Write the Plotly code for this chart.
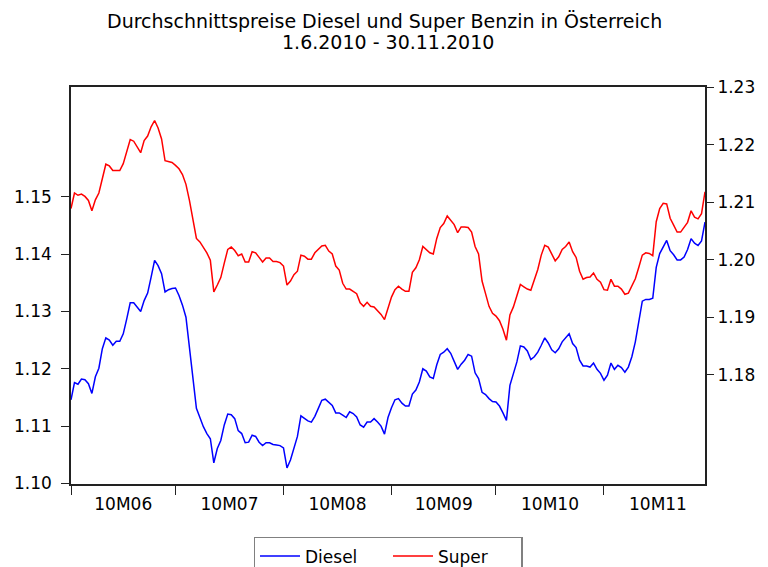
import pandas as pd
import plotly.graph_objects as go

start_date = "2010-06-01"
end_date = "2010-11-30"
dates = pd.date_range(start_date, end_date, freq="D")

diesel = [
    1.1146, 1.1176, 1.1173, 1.1182, 1.1181, 1.1174, 1.1157, 1.1186, 1.1201, 1.1235,
    1.1254, 1.1250, 1.1241, 1.1248, 1.1248, 1.1261, 1.1287, 1.1315, 1.1315, 1.1307,
    1.1300, 1.1319, 1.1332, 1.1360, 1.1389, 1.1380, 1.1366, 1.1334, 1.1338, 1.1340,
    1.1341, 1.1328, 1.1311, 1.1290, 1.1238, 1.1186, 1.1131, 1.1115, 1.1099, 1.1087,
    1.1078, 1.1036, 1.1061, 1.1075, 1.1102, 1.1121, 1.1120, 1.1113, 1.1092, 1.1087,
    1.1071, 1.1072, 1.1084, 1.1082, 1.1072, 1.1066, 1.1071, 1.1071, 1.1068, 1.1067,
    1.1066, 1.1062, 1.1027, 1.1041, 1.1064, 1.1082, 1.1118, 1.1113, 1.1109, 1.1107,
    1.1117, 1.1131, 1.1145, 1.1147, 1.1142, 1.1136, 1.1123, 1.1123, 1.1119, 1.1115,
    1.1125, 1.1122, 1.1116, 1.1102, 1.1098, 1.1107, 1.1107, 1.1113, 1.1107, 1.1100,
    1.1086, 1.1115, 1.1132, 1.1146, 1.1148, 1.1140, 1.1135, 1.1135, 1.1156, 1.1163,
    1.1177, 1.1200, 1.1196, 1.1186, 1.1183, 1.1207, 1.1225, 1.1229, 1.1235, 1.1227,
    1.1213, 1.1199, 1.1208, 1.1215, 1.1225, 1.1222, 1.1193, 1.1183, 1.1159, 1.1155,
    1.1148, 1.1143, 1.1142, 1.1135, 1.1123, 1.1110, 1.1171, 1.1192, 1.1212, 1.1240,
    1.1238, 1.1231, 1.1216, 1.1221, 1.1229, 1.1241, 1.1254, 1.1245, 1.1233, 1.1228,
    1.1235, 1.1247, 1.1254, 1.1261, 1.1244, 1.1237, 1.1215, 1.1205, 1.1205, 1.1203,
    1.1210, 1.1199, 1.1192, 1.1180, 1.1189, 1.1210, 1.1199, 1.1206, 1.1202, 1.1194,
    1.1203, 1.1221, 1.1247, 1.1282, 1.1318, 1.1321, 1.1321, 1.1323, 1.1377, 1.1401,
    1.1413, 1.1424, 1.1406, 1.1399, 1.1390, 1.1390, 1.1395, 1.1408, 1.1427, 1.1419,
    1.1415, 1.1423, 1.1456,
]

super_benzin = [
    1.2089, 1.2116, 1.2112, 1.2114, 1.2110, 1.2103, 1.2085, 1.2104, 1.2116, 1.2141,
    1.2166, 1.2163, 1.2155, 1.2155, 1.2155, 1.2167, 1.2189, 1.2209, 1.2206, 1.2197,
    1.2186, 1.2207, 1.2215, 1.2231, 1.2242, 1.2229, 1.2210, 1.2172, 1.2171, 1.2169,
    1.2164, 1.2158, 1.2148, 1.2131, 1.2103, 1.2069, 1.2037, 1.2031, 1.2022, 1.2012,
    1.1999, 1.1944, 1.1956, 1.1969, 1.1994, 1.2018, 1.2022, 1.2016, 1.2007, 1.2010,
    1.1996, 1.1996, 1.2014, 1.2012, 1.2004, 1.1996, 1.2003, 1.2003, 1.1997, 1.1997,
    1.1995, 1.1989, 1.1956, 1.1963, 1.1974, 1.1980, 1.2008, 1.2006, 1.2001, 1.2001,
    1.2012, 1.2018, 1.2024, 1.2025, 1.2015, 1.2010, 1.1989, 1.1982, 1.1959, 1.1949,
    1.1949, 1.1945, 1.1941, 1.1925, 1.1919, 1.1926, 1.1919, 1.1918, 1.1912, 1.1905,
    1.1896, 1.1915, 1.1935, 1.1948, 1.1954, 1.1949, 1.1945, 1.1945, 1.1978, 1.1986,
    1.2000, 1.2023, 1.2018, 1.2012, 1.2010, 1.2037, 1.2056, 1.2063, 1.2076, 1.2069,
    1.2061, 1.2047, 1.2057, 1.2057, 1.2056, 1.2048, 1.2023, 1.2010, 1.1963, 1.1941,
    1.1919, 1.1907, 1.1902, 1.1894, 1.1879, 1.1860, 1.1904, 1.1918, 1.1937, 1.1957,
    1.1953, 1.1949, 1.1947, 1.1964, 1.1983, 1.2008, 1.2025, 1.2022, 1.2010, 1.1998,
    1.2005, 1.2018, 1.2023, 1.2031, 1.2014, 1.2004, 1.1980, 1.1966, 1.1969, 1.1970,
    1.1977, 1.1966, 1.1961, 1.1948, 1.1947, 1.1966, 1.1954, 1.1954, 1.1949, 1.1940,
    1.1942, 1.1954, 1.1967, 1.1987, 1.2008, 1.2012, 1.2011, 1.2007, 1.2066, 1.2089,
    1.2098, 1.2097, 1.2072, 1.2060, 1.2048, 1.2048, 1.2057, 1.2065, 1.2085, 1.2074,
    1.2071, 1.2080, 1.2118,
]

left_ticks = [1.10, 1.11, 1.12, 1.13, 1.14, 1.15]
right_ticks = [1.18, 1.19, 1.20, 1.21, 1.22, 1.23]
title_line1 = "Durchschnittspreise Diesel und Super Benzin in Österreich"
title_line2 = "1.6.2010 - 30.11.2010"

FONT = "DejaVu Sans"
AX = "#222222"

fig = go.Figure()
fig.add_trace(go.Scatter(x=dates, y=diesel, name="Diesel", mode="lines",
                         line=dict(color="#0000ff", width=1.5), yaxis="y"))
fig.add_trace(go.Scatter(x=dates, y=super_benzin, name="Super", mode="lines",
                         line=dict(color="#ff0000", width=1.5), yaxis="y2"))

fig.update_layout(
    width=768, height=567,
    margin=dict(l=71, r=63, t=87, b=83, autoexpand=False),
    paper_bgcolor="white", plot_bgcolor="white",
    font=dict(family=FONT, color="black", size=16),
    showlegend=True,
    legend=dict(orientation="h", x=0.5, xanchor="center", y=-0.1335, yanchor="top",
                bordercolor="#808080", borderwidth=1.5, bgcolor="white",
                font=dict(size=17, family=FONT), itemwidth=40,
                entrywidth=78, entrywidthmode="pixels"),
    xaxis=dict(type="date", range=[start_date, end_date], automargin=False,
               tick0=start_date, dtick="M1", ticklabelmode="period",
               tickformat="%yM%m", ticks="outside", ticklen=9, tickcolor=AX,
               ticklabelstandoff=-5,
               showline=True, linecolor=AX, linewidth=1.5, mirror=True,
               showgrid=False, zeroline=False, tickfont=dict(size=17)),
    yaxis=dict(range=[1.0999, 1.16916], tickvals=left_ticks, tickformat=".2f",
               automargin=False, ticklabelstandoff=6,
               ticks="outside", ticklen=8, tickcolor=AX,
               showline=True, linecolor=AX, linewidth=1.5, mirror=True,
               showgrid=False, zeroline=False, tickfont=dict(size=17)),
    yaxis2=dict(range=[1.16102, 1.23002], tickvals=right_ticks, tickformat=".2f",
                automargin=False,
                overlaying="y", side="right", ticks="outside", ticklen=8,
                tickcolor=AX, showline=False, showgrid=False, zeroline=False,
                tickfont=dict(size=17)),
    annotations=[
        dict(text=title_line1, xref="paper", yref="paper", x=0.4937, y=1.166,
             xanchor="center", yanchor="middle", showarrow=False,
             font=dict(size=19, family=FONT)),
        dict(text=title_line2, xref="paper", yref="paper", x=0.5, y=1.114,
             xanchor="center", yanchor="middle", showarrow=False,
             font=dict(size=19, family=FONT)),
    ],
)

fig.write_html("out.html", config={"displayModeBar": False},
               post_script="document.body.style.margin='0';document.body.style.padding='0';")
